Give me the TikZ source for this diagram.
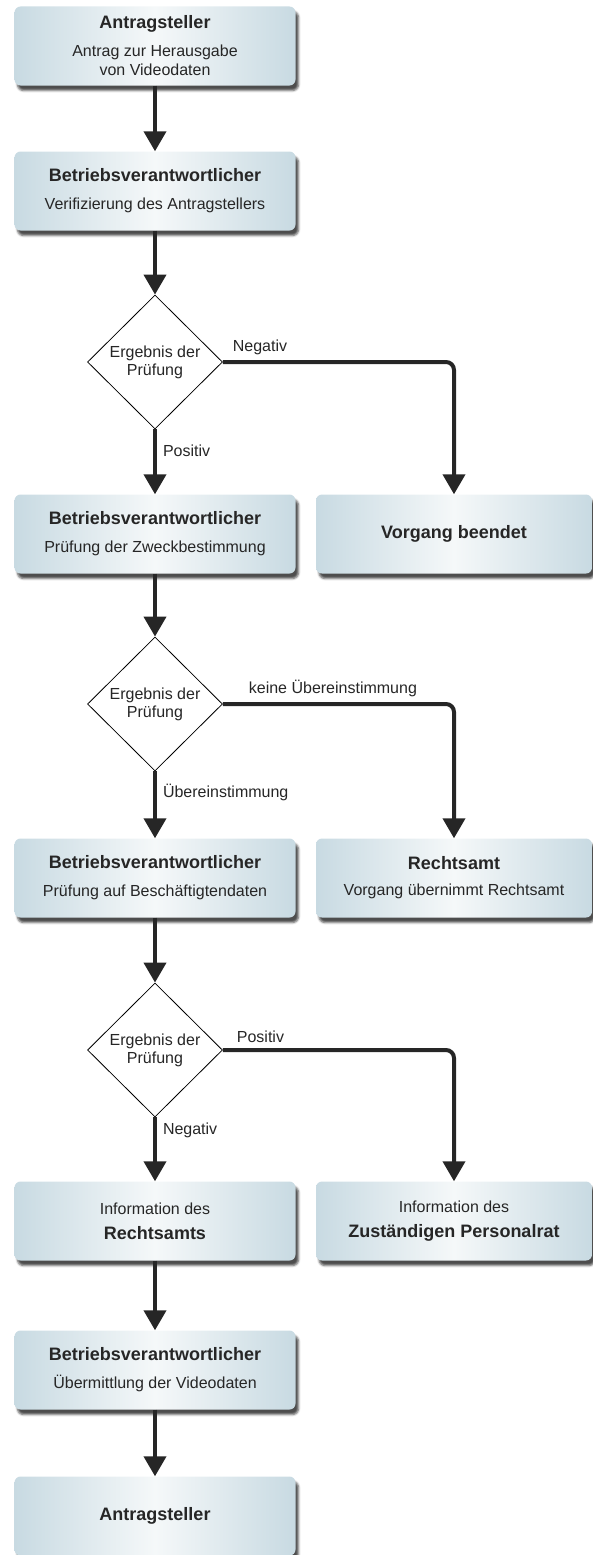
\documentclass[tikz,border=0pt]{standalone}
\usepackage{fontspec}
\setmainfont{Liberation Sans}
\usetikzlibrary{shapes.geometric,arrows.meta,shadows.blur,positioning}
\definecolor{boxedge}{RGB}{200,218,226}
\definecolor{boxmid}{RGB}{245,248,249}
\definecolor{ink}{RGB}{38,38,38}
\newcommand{\titel}[1]{{\fontsize{18}{22}\selectfont\bfseries #1}}

\begin{document}
\begin{tikzpicture}[box/.style={rectangle,rounded corners=6pt,minimum
        width=281pt,minimum height=79pt,inner sep=2pt,align=center,
        left color=boxedge,right color=boxedge,middle color=boxmid,
        text=ink,font=\fontsize{16}{19}\selectfont,
        blur shadow={shadow xshift=3pt,shadow yshift=-5pt,shadow
        opacity=70}},
    rbox/.style={box,minimum width=276pt},
    dec/.style={diamond,draw=black,line width=0.8pt,fill=white,minimum
        width=135pt,minimum height=134pt,inner sep=0pt,align=center,
        text=ink,font=\fontsize{16}{18}\selectfont},
    flow/.style={draw=ink,line width=4pt,rounded corners=8pt,
        -{Triangle[length=20pt,width=22pt]}},
    lbl/.style={text=ink,font=\fontsize{16}{18}\selectfont,inner sep=0pt}]

    \useasboundingbox (0,0) rectangle (592pt,-1555pt);

    % the boxes

    \node[box] (antrag) at (155pt,-46pt) {\titel{Antragsteller}\\[9pt]
      Antrag zur Herausgabe\\von Videodaten};
    \node[box] (verif) at (155pt,-191pt) {\titel{Betriebsverantwortlicher}\\[9pt]
      Verifizierung des Antragstellers};
    \node[dec] (d1) at (155pt,-362pt) {Ergebnis der\\Prüfung};
    \node[box] (zweck) at (155pt,-534pt) {\titel{Betriebsverantwortlicher}\\[9pt]
      Prüfung der Zweckbestimmung};
    \node[rbox] (ende) at (454pt,-534pt) {\titel{Vorgang beendet}};
    \node[dec] (d2) at (155pt,-704pt) {Ergebnis der\\Prüfung};
    \node[box] (besch) at (155pt,-878pt) {\titel{Betriebsverantwortlicher}\\[9pt]
      Prüfung auf Beschäftigtendaten};
    \node[rbox] (recht) at (454pt,-878pt) {\titel{Rechtsamt}\\[7pt]
      Vorgang übernimmt Rechtsamt};
    \node[dec] (d3) at (155pt,-1050pt) {Ergebnis der\\Prüfung};
    \node[box] (inforecht) at (155pt,-1221pt) {Information des\\[6pt]
      \titel{Rechtsamts}};
    \node[rbox] (infopr) at (454pt,-1221pt) {Information des\\[6pt]
      \titel{Zuständigen Personalrat}};
    \node[box] (videodaten) at (155pt,-1370pt) {\titel{Betriebsverantwortlicher}\\[9pt]
      Übermittlung der Videodaten};
    \node[box] (antrag2) at (155pt,-1516pt) {\titel{Antragsteller}};

    % the arrows

    \draw[flow] (antrag) -- (verif);
    \draw[flow] (verif) -- (d1);
    \draw[flow] (d1) -- node[lbl,right=6pt,pos=.33]{Positiv} (zweck);
    \draw[flow] (d1.east) -| node[lbl,pos=0,above right=5pt and 8pt]{Negativ} (ende);
    \draw[flow] (zweck) -- (d2);
    \draw[flow] (d2) -- node[lbl,right=6pt,pos=.32]{Übereinstimmung} (besch);
    \draw[flow] (d2.east) -| node[lbl,pos=0,above right=5pt and 24pt]{keine Übereinstimmung} (recht);
    \draw[flow] (besch) -- (d3);
    \draw[flow] (d3) -- node[lbl,right=6pt,pos=.2]{Negativ} (inforecht);
    \draw[flow] (d3.east) -| node[lbl,pos=0,above right=5pt and 12pt]{Positiv} (infopr);
    \draw[flow] (inforecht) -- (videodaten);
    \draw[flow] (videodaten) -- (antrag2);
  \end{tikzpicture}
\end{document}
